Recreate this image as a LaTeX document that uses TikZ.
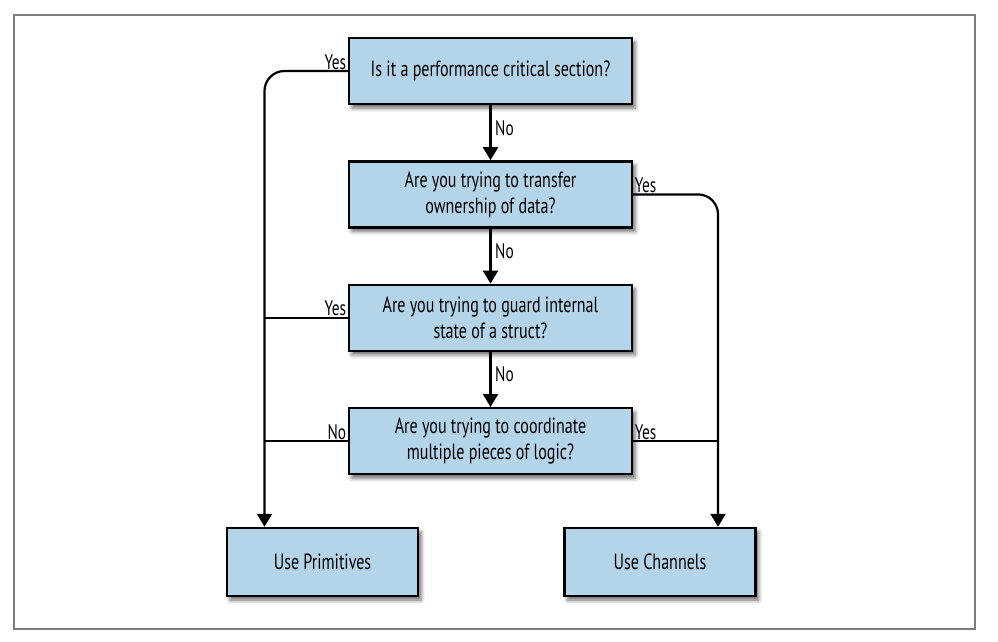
\documentclass[tikz,border=0pt]{standalone}
\usepackage{fontspec}
\setmainfont{PT Sans}[FakeStretch=0.73]
\usetikzlibrary{arrows.meta, positioning, calc, shadows.blur}
\definecolor{boxblue}{RGB}{180,212,234}
\definecolor{framegray}{RGB}{125,125,125}
\tikzset{
  qbox/.style={rectangle, draw=black, fill=boxblue, line width=2.4pt,
    minimum width=283pt, minimum height=66pt, align=center,
    font=\fontsize{22}{26}\selectfont,
    blur shadow={shadow xshift=3pt, shadow yshift=-4pt, shadow blur radius=4pt, shadow opacity=60}},
  endbox/.style={qbox, minimum width=191pt, minimum height=68pt},
  conn/.style={line width=2.2pt, -{Triangle[width=15pt,length=13pt]}},
  plain/.style={line width=2.2pt},
  lbl/.style={font=\fontsize{21}{24}\selectfont, inner sep=1.5pt}
}
\begin{document}
\begin{tikzpicture}[x=1pt, y=-1pt]
  \useasboundingbox (0,0) rectangle (998,642);
  \draw[framegray, line width=1.4pt] (14,15) rectangle (975,629);

  % question chain
  \node[qbox] (q1) at (490.5,71) {Is it a performance critical section?};
  \node[qbox, below=55pt of q1] (q2) {Are you trying to transfer\\ownership of data?};
  \node[qbox, below=55pt of q2] (q3) {Are you trying to guard internal\\state of a struct?};
  \node[qbox, below=55pt of q3] (q4) {Are you trying to coordinate\\multiple pieces of logic?};

  % outcomes
  \node[endbox] (prim) at (322.5,562) {Use Primitives};
  \node[endbox] (chan) at (660,562) {Use Channels};
  \coordinate (pin) at ($(prim.north west)!0.2!(prim.north east)$);
  \coordinate (cin) at ($(chan.north west)!0.8!(chan.north east)$);

  % No branches
  \draw[conn] (q1) -- (q2);
  \draw[conn] (q2) -- (q3);
  \draw[conn] (q3) -- (q4);
  \node[lbl, anchor=west, xshift=3pt, yshift=5pt] at ($(q1.south)!0.5!(q2.north)$) {No};
  \node[lbl, anchor=west, xshift=3pt, yshift=5pt] at ($(q2.south)!0.5!(q3.north)$) {No};
  \node[lbl, anchor=west, xshift=3pt, yshift=5pt] at ($(q3.south)!0.5!(q4.north)$) {No};

  % to primitives
  \draw[conn, rounded corners=20pt] (q1.west) -| (pin);
  \draw[plain] (q3.west) -- (q3.west -| pin);
  \draw[plain] (q4.west) -- (q4.west -| pin);
  \node[lbl, anchor=south east] at (q1.west) {Yes};
  \node[lbl, anchor=south east] at (q3.west) {Yes};
  \node[lbl, anchor=south east] at (q4.west) {No};

  % to channels
  \draw[conn, rounded corners=20pt] (q2.east) -| (cin);
  \draw[plain] (q4.east) -- (q4.east -| cin);
  \node[lbl, anchor=south west] at (q2.east) {Yes};
  \node[lbl, anchor=south west] at (q4.east) {Yes};
\end{tikzpicture}
\end{document}
